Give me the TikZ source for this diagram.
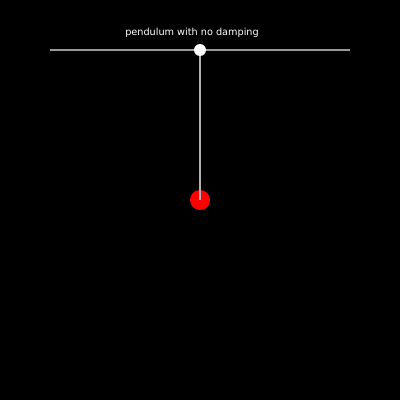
\documentclass[tikz,border=0pt]{standalone}
\usepackage{fontspec}
\setmainfont{DejaVu Sans}
\begin{document}
\begin{tikzpicture}[x=1pt, y=1pt, font=\fontsize{9.7}{11}\selectfont]
      \tikzset{pivot/.style={circle, fill=white, inner sep=0pt, minimum size=12pt},
        bob/.style={circle, fill=red, inner sep=0pt, minimum size=20pt},
        rod/.style={draw=white!70!black, line width=1.5pt}}
      \fill[black] (0,0) rectangle (400,400);
      \useasboundingbox (0,0) rectangle (400,400);
      \coordinate (railL) at (50,350);
      \coordinate (railR) at (350,350);
      \draw[draw=white!60!black, line width=1.5pt] (railL) -- (railR);
      \node[bob] (ball) at (200,200) {};
      \coordinate (hinge) at (200,350);
      \draw[rod] (hinge) -- (ball.center);
      \node[pivot] (top) at (hinge) {};
      \node[text=white] (title) at (192,367.5) {pendulum with no damping};
    \end{tikzpicture}
\end{document}
